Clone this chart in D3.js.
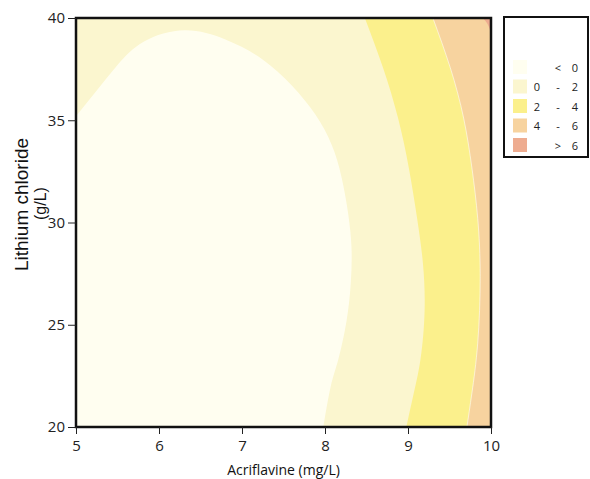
<!DOCTYPE html>
<html>
<head>
<meta charset="utf-8">
<script src="https://cdn.jsdelivr.net/npm/d3@7"></script>
<style>
  body { margin: 0; background: #fff; }
  svg { display: block; }
</style>
</head>
<body>
<div id="app"></div>
<script>
const xTicks = [5, 6, 7, 8, 9, 10]
const yTicks = [20, 25, 30, 35, 40]
const levelColors = ["#fffef0", "#fbf6cf", "#fbf08c", "#f7d39f", "#eeac90"]
const legendLabels = [["", "<", "0"], ["0", "-", "2"], ["2", "-", "4"], ["4", "-", "6"], ["", ">", "6"]]

// contour lines (Acriflavine, Lithium chloride)
// z = 0 : closed blob on the left
const zeroX = [5, 5.25, 5.50, 5.82, 6.31, 6.80, 7.24, 7.60, 7.88, 8.08, 8.20, 8.28, 8.32, 8.31, 8.26, 8.16, 8.07, 7.98]
const zeroY = [35.2, 36.45, 37.7, 38.85, 39.4, 38.95, 38.0, 36.7, 35.3, 33.8, 32.2, 30.4, 28.7, 27.0, 25.2, 23.3, 22.0, 20]
// z = 2
const twoX = [8.48, 8.70, 8.88, 9.01, 9.11, 9.18, 9.20, 9.15, 9.06, 8.98]
const twoY = [40, 37.56, 35.11, 32.67, 30.2, 28.0, 25.7, 23.3, 21.48, 20]
// z = 4
const fourX = [9.30, 9.51, 9.67, 9.77, 9.84, 9.87, 9.84, 9.77, 9.71]
const fourY = [40, 37.56, 35.11, 32.67, 30.2, 27.35, 24.1, 21.66, 20]
// z = 6
const sixX = [9.90, 9.96, 10]
const sixY = [40, 39.7, 39.3]

const zip = (xs, ys) => xs.map((v, i) => [v, ys[i]])

const width = 590, height = 479

const fx = d3.scaleLinear()
  .domain([5, 10])
  .range([76, 491])

const fy = d3.scaleLinear()
  .domain([20, 40])
  .range([427, 18])

const svg = d3.select("#app").append("svg")
  .attr("width", width)
  .attr("height", height)

svg.append("clipPath")
    .attr("id", "plot")
  .append("rect")
    .attr("x", fx(5))
    .attr("y", fy(40))
    .attr("width", fx(10) - fx(5))
    .attr("height", fy(20) - fy(40))

const g = svg.append("g")
  .attr("clip-path", "url(#plot)")

// background band 0 - 2
g.append("rect")
  .attr("x", fx(5))
  .attr("y", fy(40))
  .attr("width", fx(10) - fx(5))
  .attr("height", fy(20) - fy(40))
  .attr("fill", levelColors[1])

// < 0 blob
const line = d3.line()
  .x(d => fx(d[0]))
  .y(d => fy(d[1]))
  .curve(d3.curveNatural)

g.append("path")
  .attr("d", line(zip(zeroX, zeroY)) + `L${fx(5)},${fy(20)}Z`)
  .attr("fill", levelColors[0])

// bands to the right of each contour
const band = d3.area()
  .y(d => fy(d[1]))
  .x0(d => fx(d[0]))
  .x1(fx(10) + 2)
  .curve(d3.curveNatural)

g.append("path")
  .attr("d", band(zip(twoX, twoY)))
  .attr("fill", levelColors[2])

g.append("path")
  .attr("d", band(zip(fourX, fourY)))
  .attr("fill", levelColors[3])

g.append("path")
  .attr("d", line(zip(fourX, fourY)))
  .attr("fill", "none")
  .attr("stroke", "#fff")
  .attr("stroke-width", 0.8)
  .attr("stroke-opacity", 0.7)

g.append("path")
  .attr("d", band(zip(sixX, sixY)))
  .attr("fill", levelColors[4])

// frame
svg.append("rect")
  .attr("x", fx(5))
  .attr("y", fy(40))
  .attr("width", fx(10) - fx(5))
  .attr("height", fy(20) - fy(40))
  .attr("fill", "none")
  .attr("stroke", "#111")
  .attr("stroke-width", 2.5)

// axes
const gx = svg.append("g")
  .attr("transform", `translate(0,${fy(20)})`)
  .call(d3.axisBottom(fx).tickValues(xTicks).tickFormat(d3.format("d")).tickSize(7).tickPadding(6))
gx.select(".domain").remove()

const gy = svg.append("g")
  .attr("transform", `translate(${fx(5)},0)`)
  .call(d3.axisLeft(fy).tickValues(yTicks).tickFormat(d3.format("d")).tickSize(8).tickPadding(3))
gy.select(".domain").remove()

svg.selectAll(".tick text")
  .attr("font-family", "'Open Sans', sans-serif")
  .attr("font-size", 15)
  .attr("fill", "#222")
svg.selectAll(".tick line")
  .attr("stroke", "#222")

svg.append("text")
  .attr("x", (fx(5) + fx(10)) / 2)
  .attr("y", 475)
  .attr("text-anchor", "middle")
  .attr("font-family", "'Open Sans', sans-serif")
  .attr("font-size", 14)
  .attr("fill", "#111")
  .text("Acriflavine (mg/L)")

svg.append("text")
  .attr("transform", "translate(28,204.5) rotate(-90)")
  .attr("text-anchor", "middle")
  .attr("font-family", "'Liberation Sans', Arial, sans-serif")
  .attr("font-size", 19)
  .attr("fill", "#111")
  .text("Lithium chloride")

svg.append("text")
  .attr("transform", "translate(46,203.5) rotate(-90)")
  .attr("text-anchor", "middle")
  .attr("font-family", "'Liberation Sans', Arial, sans-serif")
  .attr("font-size", 16)
  .attr("fill", "#111")
  .text("(g/L)")

// legend
const lg = svg.append("g")

lg.append("rect")
  .attr("x", 504)
  .attr("y", 17)
  .attr("width", 84)
  .attr("height", 140)
  .attr("fill", "#fff")
  .attr("stroke", "#111")
  .attr("stroke-width", 2)

const rows = lg.selectAll("g.row")
  .data(legendLabels)
  .join("g")
    .attr("class", "row")
    .attr("transform", (d, i) => `translate(0,${60 + i * 19.5})`)

rows.append("rect")
  .attr("x", 513)
  .attr("width", 14)
  .attr("height", 14)
  .attr("fill", (d, i) => levelColors[i])

rows.each(function (d) {
  const r = d3.select(this)
  ;[537, 558, 575].forEach((cx, k) => {
    r.append("text")
      .attr("x", cx)
      .attr("y", 11.5)
      .attr("text-anchor", "middle")
      .attr("font-family", "'Open Sans', sans-serif")
      .attr("font-size", 11)
      .attr("fill", "#222")
      .text(d[k])
  })
})
</script>
</body>
</html>
